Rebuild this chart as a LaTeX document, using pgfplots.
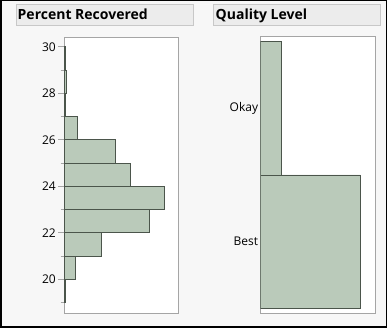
\documentclass[border=0pt]{standalone}
\usepackage{pgfplots}
\pgfplotsset{compat=1.18}
\usepackage{fontspec}
\setmainfont{Open Sans}
\definecolor{barfill}{RGB}{186,202,186}
\definecolor{baredge}{RGB}{75,85,75}
\definecolor{framec}{RGB}{165,165,165}
\definecolor{bg}{RGB}{247,247,247}
\definecolor{hdrfill}{RGB}{236,236,236}
\definecolor{hdredge}{RGB}{200,200,200}
\begin{document}
\begin{tikzpicture}[x=1pt,y=1pt]
\useasboundingbox (0,0) rectangle (387,328);
\fill[bg] (0,0) rectangle (387,328);
\draw[black, line width=1.5pt] (0.75,0.75) rectangle (386.25,327.25);
\begin{axis}[at={(64pt,291pt)}, anchor=north west, scale only axis,
  width=114pt, height=276pt,
  xmin=0, xmax=114, ymin=18.55, ymax=30.42,
  xtick=\empty, ytick={20,22,...,30}, minor ytick={19,21,...,29},
  ytick pos=left, tick align=outside,
  major tick length=6pt, minor tick length=3.5pt,
  tick style={framec, line width=0.6pt}, axis line style={framec, line width=0.8pt},
  yticklabel style={font=\fontsize{12}{13}\selectfont, inner sep=2pt},
  /pgf/number format/assume math mode=true,
  axis background/.style={fill=white}]
\addplot[xbar interval, fill=barfill, draw=baredge, line width=0.8pt] coordinates {
(1,19) (11.7,20) (37.3,21) (85.3,22) (100.3,23) (66.7,24) (51.3,25) (13.3,26) (1,27) (2,28) (1,29) (0,30)};
\end{axis}
\begin{axis}[at={(260.3pt,291.3pt)}, anchor=north west, scale only axis,
  width=115pt, height=276.6pt,
  xmin=0, xmax=115, ymin=-0.5375, ymax=1.5375,
  xtick=\empty, ytick={0,1}, yticklabels={Best,Okay},
  major tick length=0pt, ytick pos=left,
  axis line style={framec, line width=0.8pt},
  yticklabel style={font=\fontsize{12}{13}\selectfont, inner sep=2pt},
  axis background/.style={fill=white}]
\addplot[xbar, bar width=1, bar shift=0pt, fill=barfill, draw=baredge, line width=0.8pt] coordinates {(100,0) (21,1)};
\end{axis}
\draw[hdredge, fill=hdrfill] (16,303) rectangle (193,324);
\node[anchor=base west, font=\fontsize{14}{15}\selectfont\bfseries, inner sep=0] at (17.5,308) {Percent Recovered};
\draw[hdredge, fill=hdrfill] (213.3,303) rectangle (380.3,324);
\node[anchor=base west, font=\fontsize{14}{15}\selectfont\bfseries, inner sep=0] at (215.5,308) {Quality Level};
\end{tikzpicture}
\end{document}
